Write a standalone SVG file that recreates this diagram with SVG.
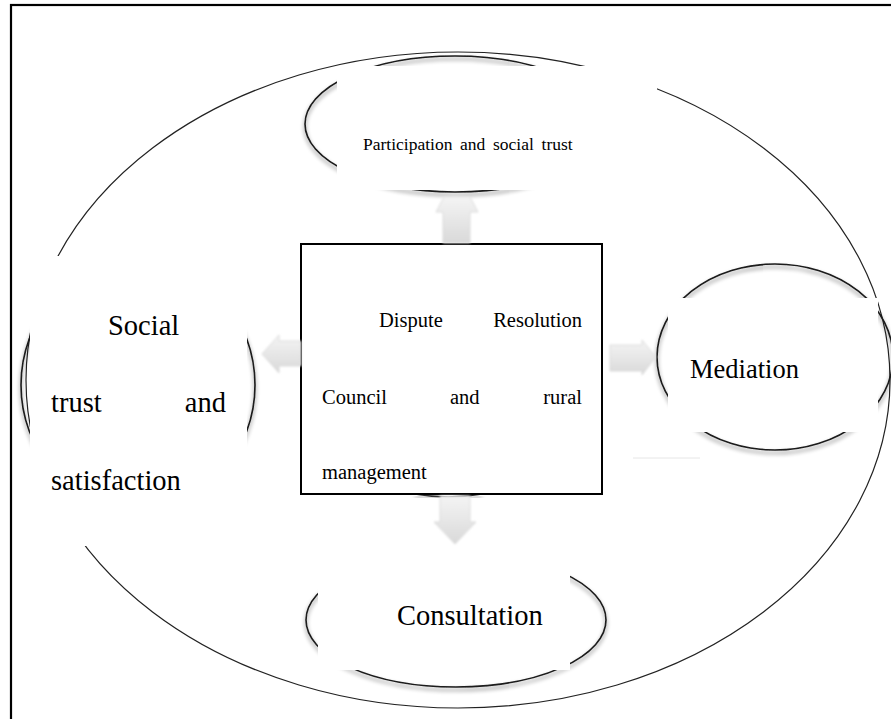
<svg xmlns="http://www.w3.org/2000/svg" width="891" height="719" viewBox="0 0 891 719">
<defs>
<style>
.ring{fill:none;stroke:#222;stroke-width:1.2}
.node{fill:none;stroke:#1a1a1a;stroke-width:1.6}
.mask{fill:#ffffff;stroke:none}
.lbl{font-family:"Liberation Serif","Times New Roman",serif;fill:#000}
.arr{fill:url(#ag);stroke:#d6d6d6;stroke-width:0.8}
</style>
<filter id="sh" x="-10%" y="-10%" width="120%" height="130%">
<feGaussianBlur in="SourceAlpha" stdDeviation="2"/>
<feOffset dx="0" dy="3" result="b"/>
<feComponentTransfer><feFuncA type="linear" slope="0.55"/></feComponentTransfer>
<feMerge><feMergeNode/><feMergeNode in="SourceGraphic"/></feMerge>
</filter>
<filter id="soft" x="-20%" y="-20%" width="140%" height="140%">
<feGaussianBlur stdDeviation="0.9"/>
</filter>
<linearGradient id="ag" x1="0" y1="0" x2="0" y2="1">
<stop offset="0" stop-color="#f4f4f4"/>
<stop offset="1" stop-color="#d9d9d9"/>
</linearGradient>
</defs>
<rect x="0" y="0" width="891" height="719" fill="#fff"/>
<rect id="frame" x="11" y="5" width="900" height="740" fill="none" stroke="#000" stroke-width="2.2"/>
<ellipse id="outer" class="ring" cx="458" cy="380" rx="432" ry="328"/>

<g id="node-top">
<ellipse class="node" cx="455" cy="124" rx="150" ry="68" filter="url(#sh)"/>
<rect class="mask" x="337" y="66" width="320" height="124"/>
<text class="lbl" x="363" y="150" font-size="17.5" word-spacing="3.3">Participation and social trust</text>
</g>

<g id="node-left">
<ellipse class="node" cx="138" cy="385" rx="117" ry="125" filter="url(#sh)"/>
<rect class="mask" x="30" y="256" width="217" height="290"/>
<text class="lbl" x="108" y="335" font-size="28.5">Social</text>
<text class="lbl" x="51" y="412" font-size="28.5">trust</text>
<text class="lbl" x="226" y="412" font-size="28.5" text-anchor="end">and</text>
<text class="lbl" x="51" y="490" font-size="28.5">satisfaction</text>
</g>

<g id="node-right">
<ellipse class="node" cx="775" cy="357" rx="118" ry="93" filter="url(#sh)"/>
<rect class="mask" x="668" y="298" width="210" height="134"/>
<line x1="633" y1="458" x2="700" y2="458" stroke="#e6e6e6" stroke-width="1"/>
<text class="lbl" x="690" y="378" font-size="26.5">Mediation</text>
</g>

<g id="node-bottom">
<ellipse class="node" cx="456" cy="620" rx="150" ry="67" filter="url(#sh)"/>
<rect class="mask" x="318" y="548" width="252" height="122"/>
<text class="lbl" x="397" y="625" font-size="28.5">Consultation</text>
</g>

<g id="node-center">
<path d="M415 494 Q448 500 482 494" fill="none" stroke="#333" stroke-width="1.5" filter="url(#sh)"/>
<rect x="301" y="244" width="301" height="250" fill="#fff" stroke="#000" stroke-width="2"/>
<text class="lbl" x="379" y="327" font-size="20.5">Dispute</text>
<text class="lbl" x="582" y="327" font-size="20.5" text-anchor="end">Resolution</text>
<text class="lbl" x="322" y="404" font-size="20.5">Council</text>
<text class="lbl" x="450" y="404" font-size="20.5">and</text>
<text class="lbl" x="582" y="404" font-size="20.5" text-anchor="end">rural</text>
<text class="lbl" x="322" y="479" font-size="20.5">management</text>
</g>

<g id="connectors" filter="url(#soft)">
<path class="arr" d="M444 197 L470 197 L478 212 L470 212 L470 243 L443 243 L443 212 L436 212 Z"/>
<path class="arr" d="M262 354 L279 335 L279 341 L301 341 L301 366 L279 366 L279 373 Z"/>
<path class="arr" d="M610 345 L642 345 L642 340 L656 357 L642 375 L642 371 L610 371 Z"/>
<path class="arr" d="M440 496 L470 496 L470 522 L476 522 L455 544 L434 522 L440 522 Z"/>
</g>
</svg>
